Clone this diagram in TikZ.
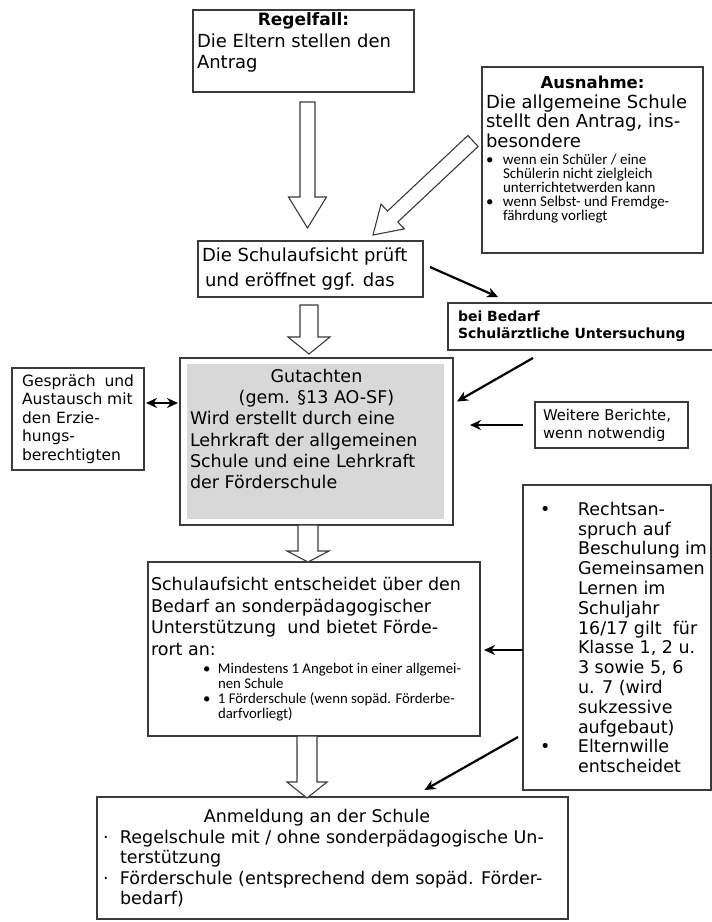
\documentclass[tikz,border=0pt]{standalone}
\usepackage{fontspec}
\setmainfont{DejaVu Sans}
\newfontfamily\calfont{Carlito}
\usetikzlibrary{calc,arrows.meta}
\definecolor{boxline}{HTML}{3A3A3A}
\definecolor{gutgray}{HTML}{D8D8D8}
\newcommand\fs[2]{\fontsize{#1}{#2}\selectfont}
\newcommand\boxtxt[4][t]{\parbox[t][#3][#1]{#2}{\raggedright#4}}
\newcommand\bul[3][17pt]{\par{\leftskip=#1\noindent\hspace*{-#1}\makebox[#1][l]{#2}#3\par}}
\newcommand\fatarrow[5]{%
  \path (#1) coordinate (fa-s) (#2) coordinate (fa-e);
  \path ($(fa-e)!#5!(fa-s)$) coordinate (fa-h);
  \draw[hollow] ($(fa-s)!#3!90:(fa-e)$) -- ($(fa-h)!#3!90:(fa-e)$) -- ($(fa-h)!#4!90:(fa-e)$) -- (fa-e)
    -- ($(fa-h)!#4!-90:(fa-e)$) -- ($(fa-h)!#3!-90:(fa-e)$) -- ($(fa-s)!#3!-90:(fa-e)$) -- cycle;}
\begin{document}
\begin{tikzpicture}[x=1pt, y=-1pt, >={Stealth[length=11pt,width=10pt]},
  fbox/.style={draw=boxline, line width=1.2pt, fill=white, anchor=north west,
    inner xsep=4pt, inner ysep=3pt, outer sep=0pt},
  hollow/.style={draw=boxline, line width=1.1pt, fill=white, line join=miter},
  link/.style={line width=2.2pt, ->}]
\useasboundingbox (0,0) rectangle (712,922);

\node[fbox] (regel) at (193,10) {\boxtxt{213pt}{76pt}{\fs{18}{21.5}%
  {\centering\bfseries\fs{17}{21.5}Regelfall:\par}Die Eltern stellen den\\Antrag}};
\node[fbox] (ausnahme) at (482,67) {\boxtxt{213pt}{180pt}{\vspace*{6pt}\fs{18}{19.5}%
  {\centering\bfseries\fs{16.5}{20}Ausnahme:\par}Die allgemeine Schule\\stellt den Antrag, ins-\\besondere\par\vspace{3pt}
  \calfont\fs{15}{14}\bul{•}{wenn ein Schüler / eine\\Schülerin nicht zielgleich\\unterrichtetwerden kann}%
  \bul{•}{wenn Selbst- und Fremdge-\\fährdung vorliegt}}};
\node[fbox] (schul) at (198,241) {\boxtxt[c]{217pt}{50pt}{\fs{18}{25}Die Schulaufsicht prüft\\\hspace*{3pt}und eröffnet ggf. das}};
\node[fbox, inner xsep=10pt] (bedarf) at (448,303) {\boxtxt[c]{252pt}{41pt}{\bfseries\fs{14}{17}bei Bedarf\\Schulärztliche Untersuchung}};
\node[fbox, inner xsep=10pt, inner ysep=8pt,
  path picture={\fill[gutgray] ($(path picture bounding box.north west)+(7,6)$) rectangle ($(path picture bounding box.south east)+(-9,-6)$);}]
  (gut) at (180,358) {\boxtxt{253pt}{151pt}{\vspace*{3pt}\fs{17.5}{21.3}%
  {\centering Gutachten\\(gem. §13 AO-SF)\par}Wird erstellt durch eine\\Lehrkraft der allgemeinen\\Schule und eine Lehrkraft\\der Förderschule}};
\node[fbox, inner xsep=10pt] (left) at (12,368) {\boxtxt[c]{112pt}{96pt}{\fs{15.5}{18.5}Gespräch\ \ und\\Austausch mit\\den Erzie-\\hungs-\\berechtigten}};
\node[fbox, inner xsep=8pt] (weitere) at (535,402) {\boxtxt[c]{137pt}{40pt}{\fs{14.8}{18}Weitere Berichte,\\wenn notwendig}};
\node[fbox, inner xsep=3pt] (mid) at (148,562) {\boxtxt[c]{326pt}{168pt}{\fs{17.5}{21.5}%
  Schulaufsicht entscheidet über den\\Bedarf an sonderpädagogischer\\Unterstützung\ \ und bietet Förde-\\rort an:\par\vspace{3pt}
  \calfont\fs{14.8}{15}\bul[67pt]{\hspace*{52pt}•}{Mindestens 1 Angebot in einer allgemei-\\nen Schule}%
  \bul[67pt]{\hspace*{52pt}•}{1 Förderschule (wenn sopäd. Förderbe-\\darfvorliegt)}}};
\node[fbox] (right) at (523,485) {\boxtxt[c]{180pt}{299pt}{\fs{17.5}{19.8}%
  \bul[51pt]{\hspace*{13pt}•}{Rechtsan-\\spruch auf\\Beschulung im\\Gemeinsamen\\Lernen im\\Schuljahr\\16/17 gilt\ \ für\\Klasse 1, 2 u.\\3 sowie 5, 6\\u. 7 (wird\\sukzessive\\aufgebaut)}%
  \bul[51pt]{\hspace*{13pt}•}{Elternwille\\entscheidet}}};
\node[fbox, inner xsep=3pt] (bottom) at (97,797) {\boxtxt[c]{465pt}{116pt}{\fs{17.5}{20.5}%
  {\centering Anmeldung an der Schule\hspace*{31pt}\par}%
  \bul[20pt]{\hspace*{3pt}·}{Regelschule mit / ohne sonderpädagogische Un-\\terstützung}%
  \bul[20pt]{\hspace*{3pt}·}{Förderschule (entsprechend dem sopäd. Förder-\\bedarf)}}};

\fatarrow{$(regel.south)+(4,10)$}{$(regel.south |- schul.north)+(4,-13)$}{7.5pt}{19pt}{31pt}
\fatarrow{$(ausnahme.west)+(-9,-19)$}{$(schul.north east)+(-50,-6)$}{7.5pt}{17pt}{27pt}
\fatarrow{$(schul.south)+(-1.5,8)$}{$(schul.south |- gut.north)+(-1.5,-4)$}{9pt}{21pt}{17pt}
\fatarrow{$(gut.south)+(-8.5,0)$}{$(gut.south |- mid.north)+(-8.5,0)$}{10pt}{21pt}{11pt}
\fatarrow{$(mid.south)+(-7,0)$}{$(mid.south |- bottom.north)+(-7,1)$}{10pt}{20pt}{16pt}

\draw[link] ($(schul.east)+(7,-2)$) -- ($(bedarf.north west)+(50,-6)$);
\draw[link] ($(bedarf.south west)+(85,8)$) -- ($(gut.east)+(4,-40)$);
\draw[link] ($(weitere.west)+(-12,0)$) -- ($(gut.east |- weitere.west)+(17,0)$);
\draw[link,<->] ($(left.east)+(2,-16)$) -- ($(gut.west |- left.east)+(-2,-16)$);
\draw[link] ($(right.west)+(0,12.5)$) -- ($(mid.east |- right.west)+(4,12.5)$);
\draw[link] ($(right.south west)+(-5,-53)$) -- ($(bottom.north)+(92,-7)$);
\end{tikzpicture}
\end{document}
